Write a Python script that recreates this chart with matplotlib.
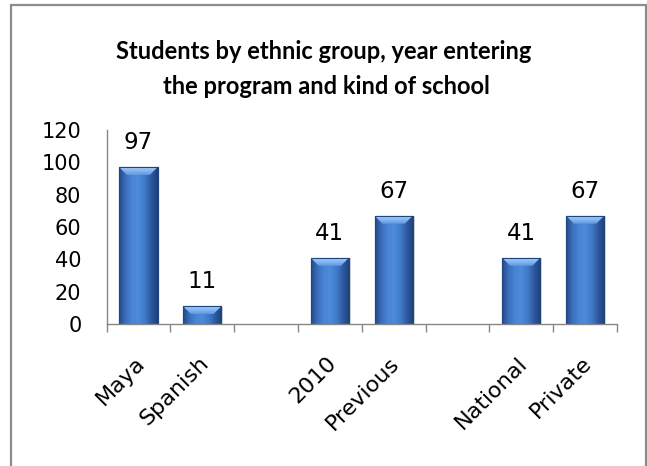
import numpy as np
import matplotlib
matplotlib.use('Agg')
import matplotlib.pyplot as plt
import matplotlib.transforms as mtrans
from matplotlib.patches import Rectangle, Polygon
from matplotlib.colors import LinearSegmentedColormap

# ---- data ----
categories = ['Maya', 'Spanish', '', '2010', 'Previous', '', 'National', 'Private']
values = [97, 11, np.nan, 41, 67, np.nan, 41, 67]
yticks = [0, 20, 40, 60, 80, 100, 120]
title_lines = ['Students by ethnic group, year entering',
               'the program and kind of school']

plt.rcParams['font.family'] = ['DejaVu Sans']
title_family = ['Lato', 'DejaVu Sans']

W, H = 647, 466
fig = plt.figure(figsize=(W / 100, H / 100), dpi=100)
fig.patch.set_facecolor('white')

ax_l, ax_r, ax_t, ax_b = 106.5, 617, 130, 324
ax = fig.add_axes([ax_l / W, 1 - ax_b / H, (ax_r - ax_l) / W, (ax_b - ax_t) / H])

x = np.arange(len(categories))
vals = np.array(values, dtype=float)
mask = ~np.isnan(vals)

ax.set_xlim(-0.5, len(categories) - 0.5)
ax.set_ylim(yticks[0], yticks[-1])

bar_w = 0.6
bars = ax.bar(x[mask], vals[mask], width=bar_w, color='#3B72C2',
              edgecolor='#1E467F', linewidth=0.8, zorder=2)

px_x = (ax_r - ax_l) / (len(categories))
px_y = (ax_b - ax_t) / (yticks[-1] - yticks[0])
bevel_h = 8 / px_y
bevel_in = 8 / px_x

body_cmap = LinearSegmentedColormap.from_list(
    'body', ['#22498C', '#3A6FBC', '#4A84D4', '#4D8ADA', '#4079C8', '#2C589E', '#1E3F78'])
top_cmap = LinearSegmentedColormap.from_list('top', ['#5E97E0', '#82B4EE', '#A8CEF6'])

hgrad = np.linspace(0, 1, 256).reshape(1, -1)
vgrad = np.linspace(0, 1, 64).reshape(-1, 1)

for p in bars.patches:
    x0 = p.get_x()
    w = p.get_width()
    h = p.get_height()
    sh = Rectangle((x0 + 0.03, 0), w, h - 0.4, facecolor='#000000', alpha=0.12,
                   edgecolor='none', zorder=1.5)
    ax.add_patch(sh)
    im = ax.imshow(hgrad, extent=(x0, x0 + w, 0, h), aspect='auto', cmap=body_cmap,
                   zorder=2.1, interpolation='bilinear')
    im.set_clip_path(p)
    bh = min(bevel_h, h * 0.45)
    poly = Polygon([(x0, h), (x0 + w, h), (x0 + w - bevel_in, h - bh), (x0 + bevel_in, h - bh)],
                   closed=True, facecolor='none', edgecolor='none', zorder=2.2)
    ax.add_patch(poly)
    im2 = ax.imshow(vgrad, extent=(x0, x0 + w, h - bh, h), aspect='auto', cmap=top_cmap,
                    origin='lower', zorder=2.2, interpolation='bilinear')
    im2.set_clip_path(poly)
    ol = Rectangle((x0, 0), w, h, facecolor='none', edgecolor='#1E467F', linewidth=0.8, zorder=2.4)
    ax.add_patch(ol)
    ax.annotate(f'{int(h)}', (x0 + w / 2, h), xytext=(0, 13), textcoords='offset points',
                ha='center', va='baseline', fontsize=16.5, color='#000000', zorder=3)

ax.set_xlim(-0.5, len(categories) - 0.5)
ax.set_ylim(yticks[0], yticks[-1])
ax.set_aspect('auto')

for s in ['top', 'right']:
    ax.spines[s].set_visible(False)
for s in ['left', 'bottom']:
    ax.spines[s].set_color('#868686')
    ax.spines[s].set_linewidth(1.0)

ax.set_yticks(yticks)
ax.set_yticklabels([str(v) for v in yticks], fontsize=15)
ax.tick_params(axis='y', length=0, pad=18)

ax.set_xticks(np.arange(len(categories) + 1) - 0.5)
ax.set_xticklabels([])
ax.tick_params(axis='x', which='major', length=5.8, width=1.0, color='#868686', direction='out')
ax.set_xticks(x, minor=True)
ax.set_xticklabels(categories, minor=True, rotation=45, ha='right', va='center',
                   rotation_mode='anchor', fontsize=16)
ax.tick_params(axis='x', which='minor', length=0, pad=26)
off = mtrans.ScaledTranslation(3 / 100, 0, fig.dpi_scale_trans)
for lab in ax.get_xticklabels(minor=True):
    lab.set_transform(lab.get_transform() + off)

fig.text(324 / W, 1 - 59 / H, title_lines[0], ha='center', va='baseline',
         fontsize=17, fontweight='bold', family=title_family, color='#000000')
fig.text(326 / W, 1 - 94 / H, title_lines[1], ha='center', va='baseline',
         fontsize=17, fontweight='bold', family=title_family, color='#000000')

border = Rectangle((11 / W, -0.05), (646 - 11) / W, (H - 5) / H + 0.05,
                   transform=fig.transFigure, fill=False, edgecolor='#8C8C8C',
                   linewidth=1.6, zorder=0)
fig.patches.append(border)

fig.savefig('out.png', dpi=100, facecolor='white')
